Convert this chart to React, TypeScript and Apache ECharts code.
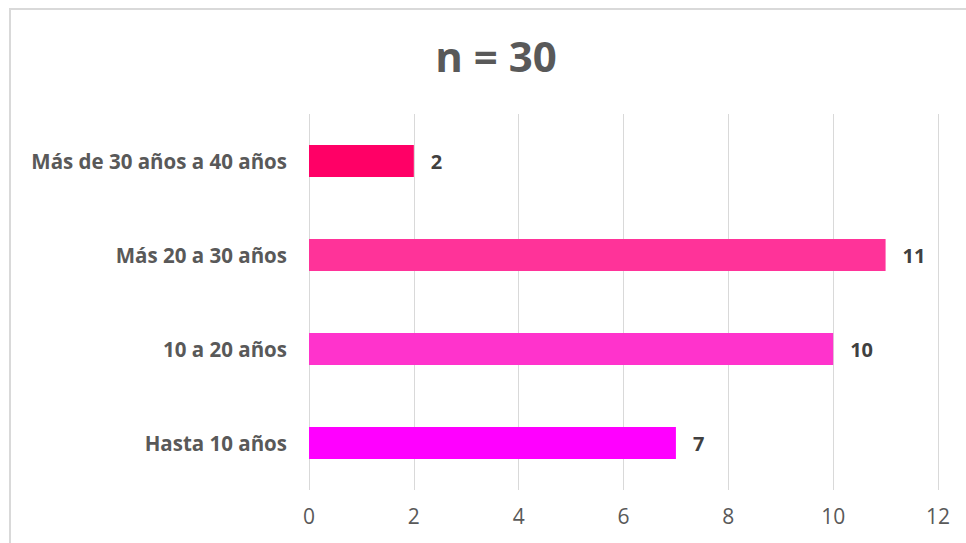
import React, { useEffect, useRef } from "react";
import * as echarts from "echarts";

const categories = ["Hasta 10 años", "10 a 20 años", "Más 20 a 30 años", "Más de 30 años a 40 años"];
const values = [7, 10, 11, 2];
const barColors = ["#FF00FF", "#FF33CC", "#FF3399", "#FF0066"];
const xTicks = { min: 0, max: 12, interval: 2 };
const title = "n = 30";

export default function App() {
  const ref = useRef<HTMLDivElement>(null);

  useEffect(() => {
    if (!ref.current) return;
    const chart = echarts.init(ref.current, null, { renderer: "svg" });
    chart.setOption({
      animation: false,
      backgroundColor: "#ffffff",
      textStyle: { fontFamily: "'Open Sans', sans-serif" },
      title: {
        text: title,
        left: 491,
        top: 29,
        textAlign: "center",
        textStyle: { fontSize: 42, fontWeight: "bold", color: "#595959", fontFamily: "'Open Sans', sans-serif" },
      },
      graphic: [
        {
          type: "rect",
          shape: { x: 10, y: 9, width: 1000, height: 600 },
          style: { fill: "none", stroke: "#d9d9d9", lineWidth: 2 },
          silent: true,
        },
      ],
      grid: { left: 309, right: 28, top: 114, bottom: 53 },
      xAxis: {
        type: "value",
        min: xTicks.min,
        max: xTicks.max,
        interval: xTicks.interval,
        axisLine: { show: false },
        axisTick: { show: false },
        axisLabel: { color: "#595959", fontSize: 21, margin: 15 },
        splitLine: { lineStyle: { color: "#d9d9d9", width: 1 } },
      },
      yAxis: {
        type: "category",
        data: categories,
        axisLine: { show: false },
        axisTick: { show: false },
        axisLabel: { color: "#595959", fontSize: 20.5, fontWeight: "bold", margin: 22 },
      },
      series: [
        {
          type: "bar",
          data: values.map((v, i) => ({ value: v, itemStyle: { color: barColors[i] } })),
          barWidth: 32,
          label: {
            show: true,
            position: "right",
            distance: 17,
            color: "#404040",
            fontSize: 20,
            fontWeight: "bold",
          },
        },
      ],
    });
    return () => chart.dispose();
  }, []);

  return <div ref={ref} style={{ position: "fixed", left: 0, top: 0, width: 966, height: 543 }} />;
}
